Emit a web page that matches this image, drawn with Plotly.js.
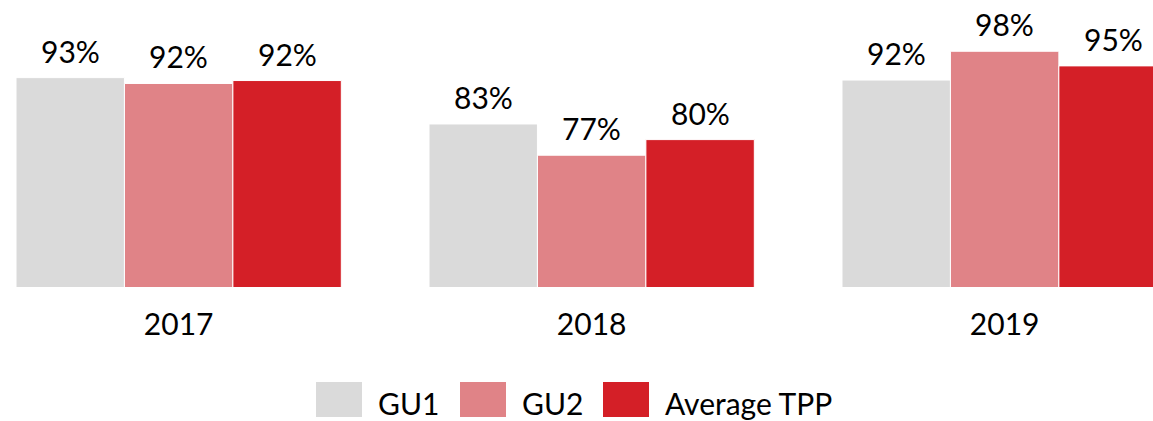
<!DOCTYPE html>
<html>
<head>
<meta charset="utf-8">
<script src="https://cdn.plot.ly/plotly-3.0.1.min.js"></script>
<style>html,body{margin:0;padding:0;background:#fff;}#chart{width:1153px;height:421px;}</style>
</head>
<body>
<div id="chart"></div>
<script>
const categories = ['2017', '2018', '2019'];
const seriesNames = ['GU1', 'GU2', 'Average TPP'];
const gu1 = [92.9, 83.4, 92.4];
const gu2 = [91.7, 77.0, 98.3];
const avgTpp = [92.3, 80.2, 95.3];
const seriesColors = ['#DADADA', '#E08387', '#D41F27'];

const seriesValues = [gu1, gu2, avgTpp];
const W = 1153, H = 421;
const margin = {l: 0, r: 0, t: 0, b: 134};
const yRange = [50, 108.8];
const xRange = [-0.4326, 2.3592];
const bargap = 0.2123;
const fontFamily = 'Lato, sans-serif';

const traces = seriesValues.map((vals, i) => ({
  type: 'bar',
  name: seriesNames[i],
  x: categories,
  y: vals,
  marker: {color: seriesColors[i], line: {color: '#ffffff', width: 1}},
  hoverinfo: 'skip'
}));

const annotations = [];
// value labels above bars, from the data (y in data units, x at the bar centre)
const span = xRange[1] - xRange[0];
const barCat = (1 - bargap) / seriesValues.length;
seriesValues.forEach((vals, i) => {
  vals.forEach((v, j) => {
    const centre = j + (i - (seriesValues.length - 1) / 2) * barCat;
    annotations.push({
      xref: 'paper', yref: 'y',
      x: (centre - xRange[0]) / span, y: v,
      yshift: 7,
      xanchor: 'center', yanchor: 'bottom',
      text: Math.round(v) + '%', showarrow: false,
      font: {family: fontFamily, size: 30, color: '#000000'}
    });
  });
});

// custom legend (large swatches)
const plotH = H - margin.t - margin.b;
const legendStarts = [316, 460, 603];
const swW = 46, swTop = 382, swBot = 417, gap = 14;
const toPx = px => px / W;
const toPy = py => (plotH - py) / plotH;
const shapes = [];
seriesNames.forEach((name, i) => {
  shapes.push({
    type: 'rect', xref: 'paper', yref: 'paper',
    x0: toPx(legendStarts[i]), x1: toPx(legendStarts[i] + swW),
    y0: toPy(swBot), y1: toPy(swTop),
    fillcolor: seriesColors[i], line: {width: 0}
  });
  annotations.push({
    xref: 'paper', yref: 'paper',
    x: toPx(legendStarts[i] + swW + gap), y: toPy(383),
    xanchor: 'left', yanchor: 'top',
    text: name, showarrow: false,
    font: {family: fontFamily, size: 30, color: '#000000'}
  });
});

const layout = {
  width: W, height: H,
  margin: margin,
  paper_bgcolor: '#ffffff', plot_bgcolor: '#ffffff',
  font: {family: fontFamily, size: 30, color: '#000000'},
  barmode: 'group',
  bargap: bargap,
  bargroupgap: 0,
  showlegend: false,
  xaxis: {
    type: 'category',
    range: xRange,
    showline: false, showgrid: false, zeroline: false,
    ticks: 'outside', ticklen: 11, tickcolor: 'rgba(0,0,0,0)',
    tickfont: {family: fontFamily, size: 30, color: '#000000'}
  },
  yaxis: {range: yRange, visible: false, showgrid: false, zeroline: false},
  shapes: shapes,
  annotations: annotations
};

Plotly.newPlot('chart', traces, layout, {displayModeBar: false, staticPlot: true});
</script>
</body>
</html>
